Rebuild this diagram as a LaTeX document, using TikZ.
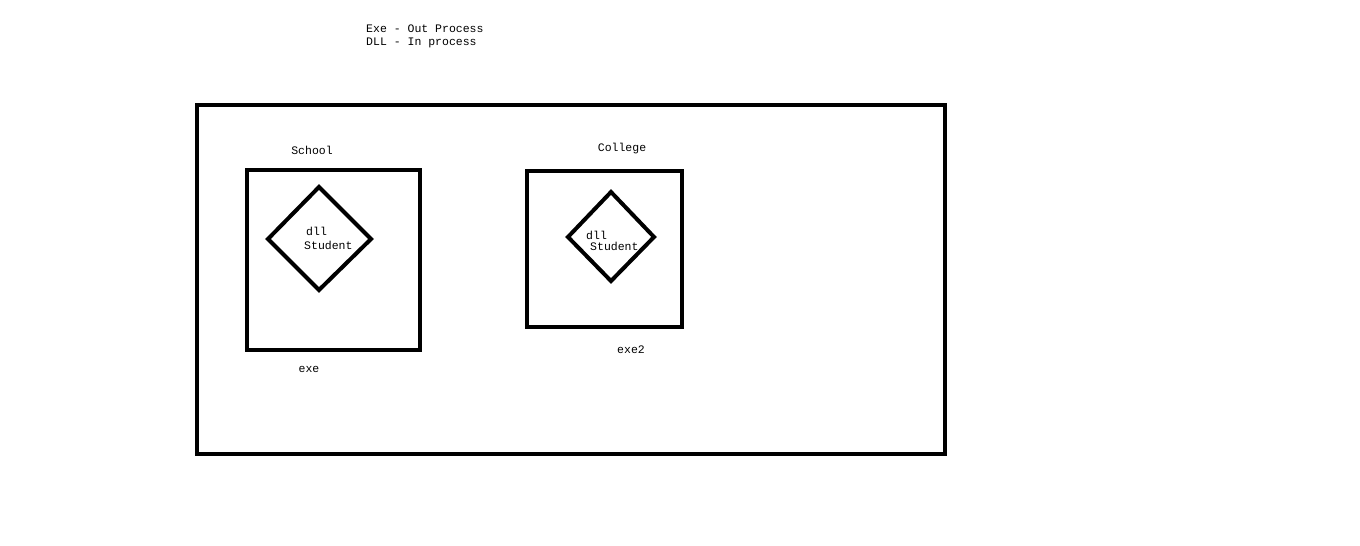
\documentclass[tikz,border=0pt]{standalone}
\usepackage{fontspec}
\setmonofont{Liberation Mono}
\tikzset{
  box/.style={draw=black, line width=4pt, fill=none},
  lbl/.style={font=\ttfamily\fontsize{11.5}{13}\selectfont, text=black, inner sep=0pt},
  lbll/.style={lbl, anchor=west}
}
\begin{document}
\begin{tikzpicture}[x=1pt,y=-1pt]
\useasboundingbox[fill=white] (0,0) rectangle (1360,546);
% legend
\node[lbll] (t1) at (366,29) {Exe - Out Process};
\node[lbll] (t2) at (366,43) {DLL - In process};
% outer
\draw[box] (197,105) rectangle (945,454);
% school
\draw[box] (247,170) rectangle (420,350);
\draw[box] (319,187) -- (371,239) -- (319,290) -- (268,239) -- cycle;
\node[lbl] (school) at (312,150) {School};
\node[lbll] (dll1) at (306,231) {dll};
\node[lbll] (st1) at (304,245) {Student};
\node[lbl] (exe) at (309,369) {exe};
% college
\draw[box] (527,171) rectangle (682,327);
\draw[box] (611,192) -- (654,237) -- (611,281) -- (568,237) -- cycle;
\node[lbl] (college) at (622,149) {College};
\node[lbll] (dll2) at (586,235) {dll};
\node[lbll] (st2) at (590,246) {Student};
\node[lbl] (exe2) at (631,350) {exe2};
\end{tikzpicture}
\end{document}
